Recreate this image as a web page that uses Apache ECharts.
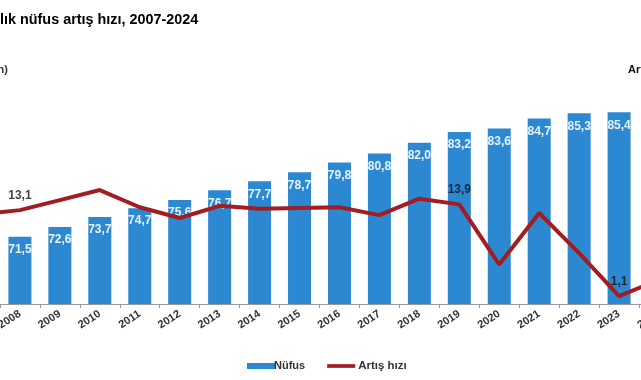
<!DOCTYPE html>
<html>
<head>
<meta charset="utf-8">
<script src="https://cdn.jsdelivr.net/npm/echarts@6/dist/echarts.min.js"></script>
<style>
html,body{margin:0;padding:0;background:#fff;}
#c{width:641px;height:380px;}
</style>
</head>
<body>
<div id="c"></div>
<script>
var years = ['2007','2008','2009','2010','2011','2012','2013','2014','2015','2016','2017','2018','2019','2020','2021','2022','2023','2024'];
var population = [70.6,71.5,72.6,73.7,74.7,75.6,76.7,77.7,78.7,79.8,80.8,82.0,83.2,83.6,84.7,85.3,85.4,85.7];
var growthRate = [12.5,13.1,14.5,15.9,13.5,12.0,13.7,13.3,13.4,13.5,12.4,14.7,13.9,5.5,12.7,7.1,1.1,3.4];
var growthLabelIdx = [1,12,16];
var titleText = 'lık nüfus artış hızı, 2007-2024';
var leftAxisName = '(milyon)';
var rightAxisName = 'Artış hızı (‰)';

function fmt(v){ return String(v.toFixed(1)).replace('.', ','); }

var labelData = growthRate.map(function(v,i){
  return growthLabelIdx.indexOf(i) >= 0 ? v : '-';
});

var chart = echarts.init(document.getElementById('c'), null, {renderer:'canvas'});
chart.setOption({
  animation:false,
  backgroundColor:'#ffffff',
  textStyle:{fontFamily:'Liberation Sans, Arial, sans-serif'},
  graphic:[
    {type:'text', left:0, top:13, style:{text:titleText, font:'bold 14.4px "Liberation Sans", Arial, sans-serif', fill:'#000'}},
    {type:'text', x:8, y:64, style:{text:leftAxisName, align:'right', font:'bold 11px "Liberation Sans", Arial, sans-serif', fill:'#333'}},
    {type:'text', x:628, y:64, style:{text:rightAxisName, align:'left', font:'bold 11px "Liberation Sans", Arial, sans-serif', fill:'#111'}}
  ],
  legend:{
    left:242, top:355,
    itemWidth:28, itemHeight:6, itemGap:22,
    textStyle:{fontSize:11, fontWeight:'bold', color:'#333', padding:[0,0,0,-6]},
    data:[
      {name:'Nüfus', icon:'rect'},
      {name:'Artış hızı', icon:'path://M0,1 L30,1 L30,5 L0,5 Z',
        textStyle:{fontSize:11.5, fontWeight:'bold', color:'#333', padding:[0,0,0,-2]}}
    ]
  },
  grid:{left:-40, right:-38, top:89, bottom:76, containLabel:false, outerBoundsMode:'none'},
  xAxis:{
    type:'category', data:years, boundaryGap:true,
    axisLine:{show:true, lineStyle:{color:'#999', width:1}},
    axisTick:{show:true, length:4, lineStyle:{color:'#999'}},
    axisLabel:{rotate:33, margin:9, fontSize:11, fontWeight:'bold', color:'#333', interval:0}
  },
  yAxis:[
    {type:'value', min:64, max:88, show:false, splitLine:{show:false}},
    {type:'value', min:0, max:30, show:false, splitLine:{show:false}}
  ],
  series:[
    {
      name:'Nüfus', type:'bar', yAxisIndex:0, data:population, barWidth:23,
      itemStyle:{color:'#2d88d2'},
      label:{show:true, position:'insideTop', distance:7, color:'#e9f3fc', fontSize:12, fontWeight:'bold',
        formatter:function(p){return fmt(p.value);}}
    },
    {
      name:'Artış hızı', type:'line', yAxisIndex:1, data:growthRate,
      symbol:'none', showSymbol:false,
      lineStyle:{color:'#a31c22', width:4}, itemStyle:{color:'#a31c22'},
      z:5
    },
    {
      name:'ArtışLabels', type:'scatter', yAxisIndex:1, data:labelData,
      symbolSize:1, itemStyle:{color:'rgba(0,0,0,0)'},
      label:{show:true, position:'top', distance:8, color:'#111', fontSize:12, fontWeight:'bold',
        formatter:function(p){return fmt(p.value);}},
      z:6, silent:true
    }
  ]
});
</script>
</body>
</html>
